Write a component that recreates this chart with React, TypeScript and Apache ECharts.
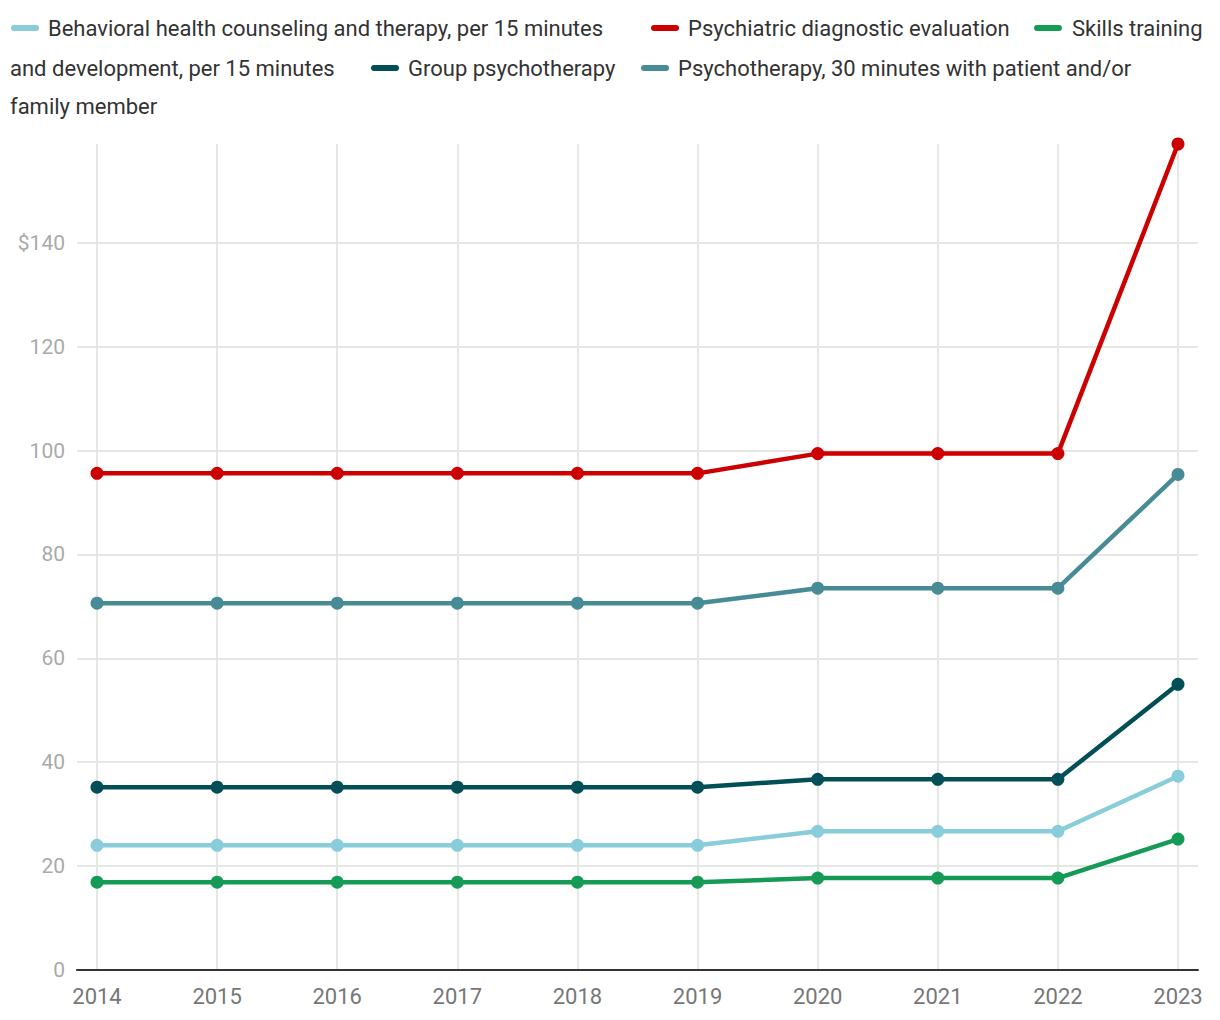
import React, { useEffect, useRef } from "react";
import * as echarts from "echarts";

const years = [2014, 2015, 2016, 2017, 2018, 2019, 2020, 2021, 2022, 2023];
const behavioral = [24.0, 24.0, 24.0, 24.0, 24.0, 24.0, 26.7, 26.7, 26.7, 37.3];
const psychiatric = [95.6, 95.6, 95.6, 95.6, 95.6, 95.6, 99.4, 99.4, 99.4, 159.0];
const skills = [16.9, 16.9, 16.9, 16.9, 16.9, 16.9, 17.7, 17.7, 17.7, 25.2];
const groupPsy = [35.2, 35.2, 35.2, 35.2, 35.2, 35.2, 36.7, 36.7, 36.7, 55.0];
const psy30 = [70.6, 70.6, 70.6, 70.6, 70.6, 70.6, 73.5, 73.5, 73.5, 95.4];
const yTickLabels: Record<number, string> = {
  0: "0", 20: "20", 40: "40", 60: "60", 80: "80", 100: "100", 120: "120", 140: "$140",
};

const seriesDefs = [
  { name: "Behavioral health counseling and therapy, per 15 minutes", data: behavioral, color: "#88cdd9" },
  { name: "Psychiatric diagnostic evaluation", data: psychiatric, color: "#cc0000" },
  { name: "Skills training and development, per 15 minutes", data: skills, color: "#169b57" },
  { name: "Group psychotherapy", data: groupPsy, color: "#024f57" },
  { name: "Psychotherapy, 30 minutes with patient and/or family member", data: psy30, color: "#478b96" },
];

const FONT = "Roboto";
const TEXT_COLOR = "#333333";

function legendGraphic() {
  const items: any[] = [];
  const sw = (x: number, y: number, color: string) => ({
    type: "rect",
    shape: { x, y: y - 3, width: 28, height: 6, r: 3 },
    style: { fill: color },
  });
  const tx = (x: number, y: number, text: string) => ({
    type: "text",
    x,
    y,
    style: { text, fill: TEXT_COLOR, font: `22px ${FONT}`, verticalAlign: "middle", align: "left" },
  });
  // line 1
  items.push(sw(11, 28, seriesDefs[0].color), tx(48, 28, "Behavioral health counseling and therapy, per 15 minutes"));
  items.push(sw(651, 28, seriesDefs[1].color), tx(688, 28, "Psychiatric diagnostic evaluation"));
  items.push(sw(1034, 28, seriesDefs[2].color), tx(1072, 28, "Skills training"));
  // line 2
  items.push(tx(10, 68, "and development, per 15 minutes"));
  items.push(sw(371, 68, seriesDefs[3].color), tx(408, 68, "Group psychotherapy"));
  items.push(sw(641, 68, seriesDefs[4].color), tx(678, 68, "Psychotherapy, 30 minutes with patient and/or"));
  // line 3
  items.push(tx(10, 106, "family member"));
  return items;
}

export default function App() {
  const ref = useRef<HTMLDivElement>(null);
  useEffect(() => {
    if (!ref.current) return;
    const chart = echarts.init(ref.current, null, { renderer: "svg" });
    chart.setOption({
      animation: false,
      backgroundColor: "#ffffff",
      textStyle: { fontFamily: FONT },
      grid: { left: 77, right: 22, top: 144, bottom: 50, containLabel: false },
      graphic: legendGraphic(),
      xAxis: {
        type: "value",
        min: 2014 - 20 / 120.1,
        max: 2023 + 20 / 120.1,
        axisLine: { show: true, lineStyle: { color: "#333333", width: 2 } },
        axisTick: { show: false, customValues: years },
        axisLabel: {
          customValues: years,
          formatter: (v: number) => String(v),
          color: "#777777",
          fontSize: 22,
          fontFamily: FONT,
          margin: 15,
        },
        splitLine: { show: true, lineStyle: { color: "#e6e6e6", width: 2 } },
      },
      yAxis: {
        type: "value",
        min: 0,
        max: 159,
        interval: 20,
        axisLine: { show: false },
        axisTick: { show: false },
        axisLabel: {
          formatter: (v: number) => yTickLabels[v] ?? "",
          color: "#aaaaaa",
          fontSize: 21,
          fontFamily: FONT,
          margin: 12,
          showMaxLabel: false,
        },
        splitLine: { show: true, showMaxLine: false, lineStyle: { color: "#e6e6e6", width: 2 } },
      },
      series: seriesDefs.map((s) => ({
        name: s.name,
        type: "line",
        data: years.map((y, i) => [y, s.data[i]]),
        symbol: "circle",
        symbolSize: 13,
        showSymbol: true,
        lineStyle: { color: s.color, width: 4.5 },
        itemStyle: { color: s.color },
        z: 3,
      })),
    });
    return () => chart.dispose();
  }, []);
  return (
    <div
      ref={ref}
      style={{ position: "fixed", left: 0, top: 0, width: 1220, height: 1020, background: "#fff" }}
    />
  );
}
